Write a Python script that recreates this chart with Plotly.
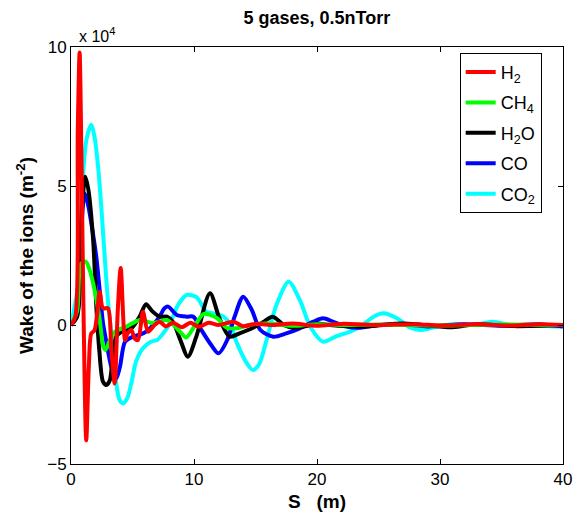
import plotly.graph_objects as go

# Values in units of 1e4 m^-2, S in metres
h2_s = [0, 0.35, 0.55, 0.7, 0.85, 1.0, 1.24, 1.45, 1.65, 1.9, 2.1, 2.33, 2.6, 3.0, 3.28, 3.55, 3.8, 4.04, 4.4, 4.6, 4.9, 5.2, 5.45, 5.85, 6.26, 6.8, 7.2, 7.7, 8.3, 9.0, 9.7, 10.4, 11.2, 12.0, 13.2, 14.0, 15.0, 16.5, 18, 20, 22, 25, 28, 30, 33, 36, 38, 40]
h2_w = [0, 0.3, 7.0, 9.8, 6.0, 1.0, -4.15, -1.5, -0.3, -0.2, 0.3, 1.2, 0.6, 0.6, -0.9, -2.1, 0.5, 2.05, -0.55, -0.3, -0.18, -0.5, -0.54, 0.48, -0.24, 0.0, 0.12, -0.05, 0.08, -0.08, 0.08, -0.06, 0.08, 0.0, 0.12, -0.04, 0.04, 0.0, 0.05, -0.03, 0.04, 0.0, 0.03, -0.02, 0.03, -0.02, 0.03, 0.0]

ch4_s = [0, 0.5, 0.8, 1.2, 1.5, 1.8, 2.3, 2.63, 2.8, 3.17, 3.58, 4.5, 5.6, 6.67, 7.8, 8.86, 9.35, 10.1, 10.8, 11.85, 12.66, 13.5, 14.5, 16, 18, 20, 22, 25, 30, 35, 40]
ch4_w = [0, 0.5, 2.2, 2.28, 2.0, 1.5, 0.3, -0.78, -0.9, -0.54, -0.24, -0.06, 0.18, 0.07, 0.18, -0.24, -0.45, 0.0, 0.4, 0.25, -0.1, -0.12, 0.0, 0.05, -0.03, 0.03, 0.0, 0.02, -0.02, 0.02, 0.0]

h2o_s = [0, 0.5, 0.8, 1.16, 1.4, 1.8, 2.06, 2.3, 2.6, 2.87, 3.15, 3.4, 3.68, 4.1, 4.9, 5.58, 6.1, 6.6, 7.2, 7.8, 8.3, 8.9, 9.5, 10.2, 11.3, 12.1, 12.9, 13.7, 14.8, 15.6, 16.4, 17.3, 18.1, 19, 20, 21, 24, 27, 31, 33, 36, 40]
h2o_w = [0, 0.3, 3.5, 5.33, 4.9, 3.06, 0.66, -0.9, -2.04, -2.16, -2.0, -1.1, -0.42, -0.24, -0.12, 0.3, 0.75, 0.5, 0.3, 0.3, 0.1, -0.55, -1.14, -0.4, 1.14, 0.2, -0.42, -0.3, -0.1, 0.1, 0.3, 0.0, -0.1, -0.05, 0.05, 0.0, -0.05, 0.05, -0.08, 0.03, -0.04, 0.0]

co_s = [0, 0.55, 0.85, 1.1, 1.4, 1.66, 2.06, 2.33, 2.6, 2.87, 3.28, 3.68, 3.98, 4.4, 5.04, 5.6, 6.1, 6.67, 7.2, 7.6, 7.9, 8.6, 9.4, 9.95, 10.6, 11.4, 12.0, 12.7, 13.3, 14.0, 14.7, 15.4, 16.45, 17.5, 18.6, 19.7, 20.5, 21.3, 22.4, 23.5, 25, 27, 29, 32, 35, 38, 40]
co_w = [0, 0.5, 3.5, 4.73, 4.3, 3.64, 2.44, 1.26, 0.07, -0.6, -1.5, -1.92, -1.5, -0.6, -0.42, -0.35, -0.24, 0.0, 0.3, 0.6, 0.66, 0.36, 0.3, 0.3, -0.18, -0.72, -1.02, -0.54, 0.3, 1.02, 0.54, -0.18, -0.42, -0.3, -0.12, 0.12, 0.24, 0.12, -0.06, -0.1, 0.0, 0.03, -0.05, 0.03, -0.03, 0.03, -0.05]

co2_s = [0, 0.6, 0.85, 1.25, 1.65, 1.9, 2.2, 2.46, 2.74, 3.0, 3.41, 3.68, 3.95, 4.23, 4.6, 4.9, 5.3, 5.85, 6.5, 7.0, 7.5, 8.05, 8.7, 9.4, 10.2, 11.0, 11.6, 12.4, 12.9, 13.5, 14.3, 14.8, 15.3, 15.9, 16.7, 17.7, 18.6, 19.5, 20.5, 21.6, 22.7, 23.5, 24.6, 25.4, 26.5, 27.6, 28.4, 29.7, 31.1, 32.7, 34.3, 35.7, 37.6, 39.2, 40]
co2_w = [0, 1.5, 4.5, 6.65, 7.2, 6.8, 5.7, 4.26, 2.46, 0.9, -0.9, -2.1, -2.7, -2.82, -2.6, -2.1, -1.3, -0.84, -0.6, -0.54, -0.3, 0.06, 0.72, 1.08, 1.0, 0.48, 0.42, 0.3, 0.06, -0.66, -1.38, -1.62, -1.4, -0.54, 0.72, 1.56, 0.9, -0.1, -0.6, -0.4, -0.24, -0.06, 0.3, 0.42, 0.24, -0.1, -0.18, -0.06, 0.04, 0.0, 0.12, 0.0, 0.0, -0.05, -0.05]

# drawing order (bottom to top) and legend rank
series = [
    ("CO<sub>2</sub>", co2_s, co2_w, "#00ffff", 5),
    ("CO", co_s, co_w, "#0000ff", 4),
    ("H<sub>2</sub>O", h2o_s, h2o_w, "#000000", 3),
    ("CH<sub>4</sub>", ch4_s, ch4_w, "#00ff00", 2),
    ("H<sub>2</sub>", h2_s, h2_w, "#ff0000", 1),
]

FONT = "Liberation Sans, Arial"

fig = go.Figure()
for name, s, w, c, rank in series:
    fig.add_trace(go.Scatter(x=s, y=w, name=name, mode="lines", legendgroup=f"g{rank}",
                             legendrank=rank,
                             line=dict(color=c, width=4, shape="spline", smoothing=0.8)))

axis_common = dict(showline=True, linecolor="black", linewidth=1, mirror="ticks",
                   ticks="inside", ticklen=5, tickcolor="black", showgrid=False,
                   zeroline=False, automargin=False,
                   tickfont=dict(family=FONT, size=17, color="black"))

fig.update_layout(
    width=573, height=517,
    margin=dict(l=71, r=10, t=47, b=53),
    paper_bgcolor="white", plot_bgcolor="white",
    title=dict(text="<b>5 gases, 0.5nTorr</b>", x=0.553, xanchor="center", y=0.965, yanchor="middle",
               font=dict(family=FONT, size=18, color="black")),
    xaxis=dict(range=[0, 40], tickvals=[0, 10, 20, 30, 40],
               title=dict(text="<b>S\u00a0\u00a0\u00a0(m)</b>", standoff=6,
                          font=dict(family=FONT, size=19, color="black")),
               **axis_common),
    yaxis=dict(range=[-5, 10], tickvals=[-5, 0, 5, 10],
               title=dict(text="<b>Wake of the ions (m<sup>-2</sup>)</b>", standoff=8,
                          font=dict(family=FONT, size=19, color="black")),
               **axis_common),
    legend=dict(x=0.79, y=0.986, xanchor="left", yanchor="top", traceorder="grouped",
                tracegroupgap=4, bgcolor="white", bordercolor="black", borderwidth=1,
                font=dict(family=FONT, size=18, color="black")),
    annotations=[dict(text="x 10<sup>4</sup>", xref="paper", yref="paper", x=0.012, y=1.0,
                      xanchor="left", yanchor="bottom", showarrow=False,
                      font=dict(family=FONT, size=16, color="black"))],
)

fig.write_html("out.html")
